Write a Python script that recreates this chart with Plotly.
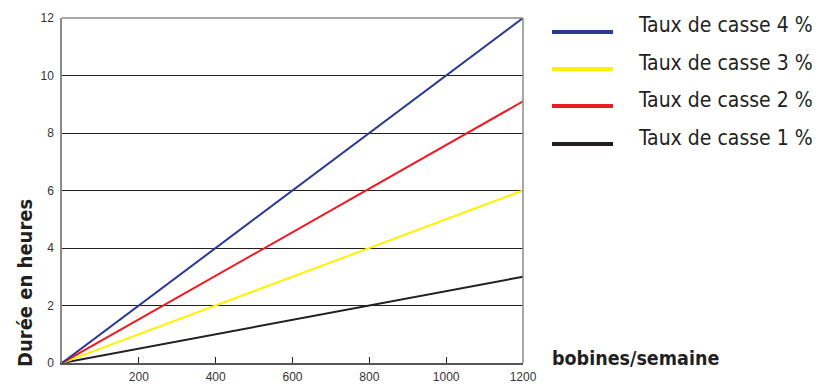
import plotly.graph_objects as go

# Data
x_vals = [0, 1200]
series_names = ["Taux de casse 4 %", "Taux de casse 3 %", "Taux de casse 2 %", "Taux de casse 1 %"]
series_values = {
    "Taux de casse 4 %": [0, 12],
    "Taux de casse 3 %": [0, 6],
    "Taux de casse 2 %": [0, 9.1],
    "Taux de casse 1 %": [0, 3],
}
series_colors = {
    "Taux de casse 4 %": "#2b3990",
    "Taux de casse 3 %": "#fff200",
    "Taux de casse 2 %": "#ed1c24",
    "Taux de casse 1 %": "#231f20",
}
x_ticks = [200, 400, 600, 800, 1000, 1200]
y_ticks = [0, 2, 4, 6, 8, 10, 12]

W, H = 822, 387
L, R, T, B = 62, 299, 18, 24

fig = go.Figure()
for name in ["Taux de casse 1 %", "Taux de casse 3 %", "Taux de casse 2 %", "Taux de casse 4 %"]:
    fig.add_trace(go.Scatter(x=x_vals, y=series_values[name], mode="lines", name=name,
                             line=dict(color=series_colors[name], width=2), showlegend=False,
                             hoverinfo="skip"))

pw = W - L - R
ph = H - T - B

def px_x(px):
    return (px - L) / pw

def px_y(py):
    return (H - B - py) / ph

shapes = []
annotations = []
shapes.append(dict(type="line", xref="paper", yref="paper", x0=0, x1=1, y0=1, y1=1,
                   line=dict(color="#8a8a8a", width=1.5)))
shapes.append(dict(type="line", xref="paper", yref="paper", x0=1, x1=1, y0=0, y1=1,
                   line=dict(color="#8a8a8a", width=1.5)))

legend_y = [32, 69, 106, 144]
for name, ly in zip(series_names, legend_y):
    shapes.append(dict(type="line", xref="paper", yref="paper", x0=px_x(552), x1=px_x(613),
                       y0=px_y(ly), y1=px_y(ly), line=dict(color=series_colors[name], width=4)))
    annotations.append(dict(xref="paper", yref="paper", x=px_x(636), y=px_y(ly - 6.5), text=name,
                            showarrow=False, xanchor="left", yanchor="middle",
                            font=dict(family="DejaVu Sans Condensed", size=21, color="#231f20")))

annotations.append(dict(xref="paper", yref="paper", x=px_x(25), y=px_y(283), text="<b>Durée en heures</b>",
                        textangle=-90, showarrow=False, xanchor="center", yanchor="middle",
                        font=dict(family="DejaVu Sans Condensed", size=20, color="#231f20")))
annotations.append(dict(xref="paper", yref="paper", x=px_x(550), y=px_y(358), text="<b>bobines/semaine</b>",
                        showarrow=False, xanchor="left", yanchor="middle",
                        font=dict(family="DejaVu Sans Condensed", size=19.5, color="#231f20")))

fig.update_layout(
    width=W, height=H,
    margin=dict(l=L, r=R, t=T, b=B, pad=0, autoexpand=False),
    paper_bgcolor="white", plot_bgcolor="white",
    shapes=shapes, annotations=annotations,
    font=dict(family="Liberation Sans", size=12, color="#333333"),
)
fig.update_xaxes(range=[0, 1200], tickvals=x_ticks, ticks="inside", ticklen=6, tickcolor="#231f20",
                 tickwidth=1, showgrid=False, zeroline=False, showline=True, linecolor="#555555",
                 linewidth=1.5, tickfont=dict(size=12, color="#333333"), ticklabelstandoff=2,
                 automargin=False)
fig.update_yaxes(range=[0, 12], tickvals=y_ticks, ticks="", showgrid=True, gridcolor="#231f20",
                 gridwidth=1, zeroline=False, showline=True, linecolor="#8a8a8a", linewidth=1.5,
                 tickfont=dict(size=12, color="#333333"), ticklabelstandoff=4, automargin=False)

fig.write_html("out.html", config={"displayModeBar": False},
               post_script="document.body.style.margin='0';")
